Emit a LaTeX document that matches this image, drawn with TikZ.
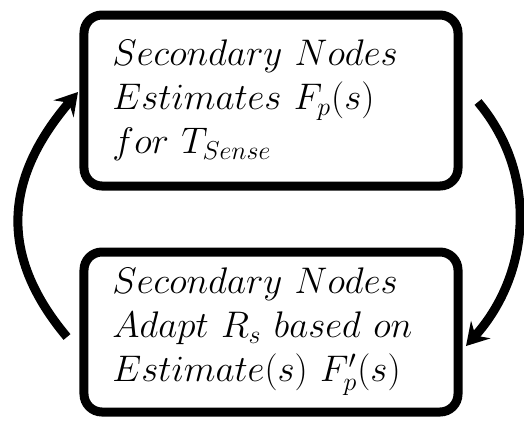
\RequirePackage{fix-cm}
\documentclass[tikz,border=0pt]{standalone}
\usepackage{amsmath}
\usepackage{tikz}
\usetikzlibrary{positioning,arrows.meta}

\begin{document}
\begin{tikzpicture}[node distance=28.5pt,
		stage/.style={rectangle, draw, line width=4.5pt, rounded corners=9pt, minimum width=187pt, text width=158.5pt, inner xsep=14.25pt, align=left, font=\fontsize{18.5}{22}\selectfont},
		feedback/.style={line width=4.5pt, -{Stealth[length=11pt,width=13pt,inset=4pt]}}]
		\useasboundingbox (-135.5pt,-159.75pt) rectangle (126.5pt,50.25pt);
		% Nodes
		\node [stage, minimum height=85.5pt] (estimate) {$Secondary\ Nodes$\\$Estimates\ F_p(s)$\\$for\ T_{Sense}$};
		\node [stage, minimum height=80pt, below=of estimate] (adapt) {$Secondary\ Nodes$\\$Adapt\ R_s\ based\ on$\\$Estimate(s)\ F'_p(s)$};
		
		% Arrows
		\draw [feedback] ([shift={(7.75pt,-0.75pt)}]estimate.east) to [out=-50, in=48] ([shift={(1.75pt,-7pt)}]adapt.east);
		\draw [feedback] ([shift={(-6.25pt,-2.5pt)}]adapt.west) to [out=130, in=229.5, looseness=1.15] ([shift={(-0.75pt,4.25pt)}]estimate.west);
	\end{tikzpicture}
\end{document}
